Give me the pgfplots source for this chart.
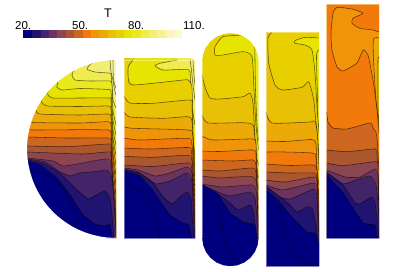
\documentclass[border=0pt]{standalone}
\usepackage{pgfplots}
\pgfplotsset{compat=1.18}
\usepackage{fontspec}
\setmainfont{Liberation Sans}
\definecolor{c0}{RGB}{0,0,127}
\definecolor{c1}{RGB}{32,20,112}
\definecolor{c2}{RGB}{68,36,104}
\definecolor{c3}{RGB}{107,52,96}
\definecolor{c4}{RGB}{140,70,80}
\definecolor{c5}{RGB}{170,87,48}
\definecolor{c6}{RGB}{205,102,30}
\definecolor{c7}{RGB}{242,122,10}
\definecolor{c8}{RGB}{240,148,10}
\definecolor{c9}{RGB}{235,170,8}
\definecolor{c10}{RGB}{232,192,5}
\definecolor{c11}{RGB}{232,208,0}
\definecolor{c12}{RGB}{230,228,0}
\definecolor{c13}{RGB}{236,232,30}
\definecolor{c14}{RGB}{240,235,78}
\definecolor{c15}{RGB}{243,238,114}
\definecolor{c16}{RGB}{246,242,148}
\definecolor{c17}{RGB}{249,246,182}
\definecolor{c18}{RGB}{251,249,208}
\definecolor{edge}{RGB}{130,130,190}
\newcommand\strokeline[1]{\addplot[draw=black,opacity=0.6,line width=0.55pt,line join=round,smooth,tension=0.35] coordinates {#1};}
\newcommand\lev[3]{%
  \edef\tmp{\noexpand\addplot[draw=none,fill=#1] coordinates {#2 #3 \cl} --cycle;}\tmp
  \strokeline{#3}}
\newcommand\base[2]{\addplot[draw=none,fill=#1] coordinates {#2} --cycle;}
\newcommand\mask[1]{\addplot[draw=none,fill=white] coordinates {#1} --cycle;}
\newcommand\swatch[3]{\addplot[draw=none,fill=#1] coordinates {(#2,30) (#3,30) (#3,37.7) (#2,37.7)} --cycle;}
\newcommand\pale[1]{\addplot[draw=white,opacity=0.4,line width=0.8pt] coordinates {#1};}
\newcommand\bottomedge[1]{\addplot[draw=edge,line width=0.8pt] coordinates {#1};}
\begin{document}
\begin{tikzpicture}
\path[use as bounding box] (0,0) rectangle (407pt,271pt);
\begin{axis}[at={(0,0)},anchor=south west,scale only axis,width=407pt,height=271pt,
  xmin=0,xmax=407,ymin=0,ymax=271,y dir=reverse,hide axis]
% colour bar
\swatch{c0}{23.3}{32}\swatch{c1}{32}{40.5}\swatch{c2}{40.5}{48.8}\swatch{c3}{48.8}{57}\swatch{c4}{57}{65.5}
\swatch{c5}{65.5}{74}\swatch{c6}{74}{82.7}\swatch{c7}{82.7}{91}\swatch{c8}{91}{99.4}\swatch{c9}{99.4}{107.7}
\swatch{c10}{107.7}{116}\swatch{c11}{116}{124}\swatch{c12}{124}{132.4}\swatch{c13}{132.4}{140.7}\swatch{c14}{140.7}{149}
\swatch{c15}{149}{157.4}\swatch{c16}{157.4}{165.7}\swatch{c17}{165.7}{174}\swatch{c18}{174}{181.7}
\node[anchor=base west,inner sep=0pt,font=\fontsize{11.5}{11.5}\selectfont] at (axis cs:15,29) {20.};
\node[anchor=base west,inner sep=0pt,font=\fontsize{11.5}{11.5}\selectfont] at (axis cs:72,29) {50.};
\node[anchor=base west,inner sep=0pt,font=\fontsize{11.5}{11.5}\selectfont] at (axis cs:128,29) {80.};
\node[anchor=base west,inner sep=0pt,font=\fontsize{11.5}{11.5}\selectfont] at (axis cs:183,29) {110.};
\node[anchor=base,inner sep=0pt,font=\fontsize{12.5}{12.5}\selectfont] at (axis cs:108,17) {T};
% ---------- panel 1
\def\cl{(116,238) (20,238)}
\base{c17}{(27,60) (116,60) (116,238) (27,238)}
\lev{c16}{(20,58) (113,58)}{(113,60) (113.5,80) (116,88)}
\lev{c15}{(20,58) (110,58)}{(110,60) (111,72) (113,80) (115,92) (116,95)}
\lev{c14}{(20,58) (103,58)}{(103,60) (92,63) (87,69) (95,72) (108,73) (111,74) (112,85) (113,100) (116,108)}
\lev{c13}{(20,70)}{(74,70) (72,75) (75,80) (90,81) (110,81) (112,85) (113,110) (116,125)}
\lev{c12}{(20,82)}{(58,82) (57,87) (62,90) (80,88.5) (108,89.5) (111,92) (113,120) (116,135)}
\lev{c11}{(20,91)}{(48,91) (48,95) (53,98) (80,98) (108,98) (111,100) (113,130) (116,145)}
\lev{c10}{(20,99)}{(41,99) (42,103) (48,106) (80,106.5) (108,106) (111,109) (113,138) (116,155)}
\lev{c9}{(20,110)}{(36,110) (40,114) (80,115) (108,114) (111,117) (113,145) (116,165)}
\lev{c8}{(20,120)}{(31,120) (33,122.5) (80,123) (108,121.7) (111,125) (112.5,150) (116,175)}
\lev{c7}{(20,129)}{(28,129) (33,130) (80,129.7) (108,130) (111,133) (112.5,155) (116,185)}
\lev{c6}{(20,137)}{(27,137) (67,138) (108,138) (111,141) (112.5,165) (116,195)}
\lev{c5}{(20,146)}{(27,146) (67,146.7) (108,144) (111,147) (112.5,175) (116,205)}
\lev{c4}{(20,152)}{(27,152) (53,153) (83,154) (107,152) (111,154) (113,185) (116,215)}
\lev{c3}{(20,158)}{(27,158) (53,161) (63,166) (83,163) (105,159) (111,162) (113,195) (116,222)}
\lev{c2}{(20,159)}{(27,159) (45,162) (60,172) (70,176) (80,173) (100,171) (107,170) (112,178) (114,202) (116,230)}
\lev{c1}{(20,160)}{(27,160) (42,163) (55,170) (65,178) (75,188) (88,199) (98,194) (105,191) (110,198) (112,215) (114,238)}
\lev{c0}{(20,161)}{(27,161) (40,165) (57,178) (70,195) (83,215) (95,224) (105,226) (110,224) (112,236) (113,238)}
\strokeline{(28,170) (43,173) (60,185) (72,205) (80,228)}
\mask{(20,58) (116,58) (116,60) (108.2,60.3) (100.5,61.4) (93,63.1) (85.6,65.4) (78.4,68.3) (71.5,71.9) (65,76.1) (58.8,80.8) (53,86) (47.8,91.8) (43,98) (38.9,104.5) (35.3,111.4) (32.4,118.6) (30.1,126) (28.4,133.5) (27.3,141.2) (27,149) (20,149)}
\mask{(20,240) (116,240) (116,238) (108.2,237.7) (100.5,236.6) (93,234.9) (85.6,232.6) (78.4,229.7) (71.5,226.1) (65,221.9) (58.8,217.2) (53,212) (47.8,206.2) (43,200) (38.9,193.5) (35.3,186.6) (32.4,179.4) (30.1,172) (28.4,164.5) (27.3,156.8) (27,149) (20,149)}
\pale{(116,60) (116,238)}
\bottomedge{(106,237.8) (116,238)}
% ---------- panel 2
\def\cl{(195,238) (124,238)}
\base{c16}{(124,60) (195,60) (195,238) (124,238)}
\lev{c15}{(124,58) (193,58)}{(193,60) (193.5,70) (195,85)}
\lev{c14}{(124,58) (190,58)}{(190,60) (191.5,70) (193,85) (195,100)}
\lev{c12}{(124,58) (177,58)}{(177,60) (160,63.3) (155,65.7) (163,70) (185,69.3) (190,71.7) (191,100) (195,125)}
\lev{c11}{(124,58) (133,58)}{(133,60) (128.3,66.7) (128.3,78) (133,85) (183,80) (188,80) (191.7,85) (192.7,108) (193,138) (195,155)}
\lev{c10}{}{(124,96) (130,103) (153,103.3) (190,100) (192,106) (193,135) (195,165)}
\lev{c9}{}{(124,112) (130,117) (163,118.3) (188,116.7) (192,121) (193.3,145) (195,175)}
\lev{c8}{}{(124,126.7) (133,128.3) (188,130) (192.7,135) (193.5,155) (195,185)}
\lev{c7}{}{(124,138) (140,140) (187,138.3) (191.7,143) (193.5,165) (195,195)}
\lev{c6}{}{(124,148) (150,149) (188,147.5) (191.5,152) (193.5,175) (195,205)}
\lev{c5}{}{(124,156.3) (153,157.3) (188,155.3) (192,161) (193.5,185) (195,215)}
\lev{c4}{}{(124,165) (153,166.5) (188,163) (192,170) (193.5,195) (195,225)}
\lev{c3}{}{(124,168) (138,170) (155,176) (170,173) (187,167) (192,173) (193.5,205) (195,232)}
\lev{c2}{}{(124,169) (138,172) (150,180) (156,184) (170,181) (187,173) (192,181) (193.5,215) (195,238)}
\lev{c1}{}{(124,170) (138,173) (153,183) (163,197) (172,204) (180,197) (187,192) (191,198) (192.5,222) (194,238)}
\lev{c0}{}{(124,171) (140,176) (153,191) (170,215) (183,223) (189,225) (191,235) (191.5,238)}
\strokeline{(124.5,183) (140,190) (153,211) (160,238)}
\pale{(124,238) (124,60) (195,60) (195,238)}
\bottomedge{(124,238) (195,238)}
% ---------- panel 3
\def\cl{(258.7,268) (202,268)}
\base{c13}{(202,32.5) (258.7,32.5) (258.7,268) (202,268)}
\lev{c12}{(202,30) (258.7,30) (258.7,43.5)}{(258,43.5) (255,46) (255,60) (255.5,90) (257,125) (258.7,140)}
\lev{c11}{(202,30) (244,30)}{(244,35) (223,36.7) (215,46.7) (215,55) (223,55) (243,51.7) (252,56.7) (254,90) (256,125) (258.7,150)}
\lev{c10}{}{(202,75) (205,87) (210,98) (220,99) (243,96.7) (250,93) (253,103) (254.5,130) (256,155) (258.7,165)}
\lev{c9}{}{(202,115) (208,123) (243,122.7) (253,125) (255,140) (256.5,165) (258.7,178)}
\lev{c8}{}{(202,136) (213,140) (253,139) (256,144) (257,170) (258.7,190)}
\lev{c7}{}{(202,151) (220,151.5) (253,150) (256,155) (257,180) (258.7,200)}
\lev{c6}{}{(202,160) (233,161) (253,160) (256,165) (257,190) (258.7,210)}
\lev{c5}{}{(202,170) (220,171) (252,168) (256,173) (257,200) (258.7,220)}
\lev{c4}{}{(202,176) (220,178) (235,177) (252,176.7) (256.5,182) (257.5,208) (258.7,228)}
\lev{c3}{}{(202,184) (223,187) (252,185) (256.5,193) (257.5,215) (258.7,235)}
\lev{c2}{}{(202,185) (220,193) (230,196) (250,192) (255,198) (257.5,225) (258.7,240)}
\lev{c1}{}{(202,185) (217,193.5) (230,203) (238,210) (250,205) (253,210) (256,232) (257.5,238)}
\lev{c0}{}{(202,185) (217,193) (230,213) (243,222) (255,225) (257,240) (258,241)}
\strokeline{(203,193) (218,205) (226,245) (241,265)}
\mask{(200,30) (231,30) (231,33) (230.4,33) (223.1,34) (216.25,36.8) (210.4,41.3) (205.9,47.15) (203.1,54) (202.1,61.3) (200,61.3)}
\mask{(261,30) (230,30) (230,33) (230.4,33) (237.7,34) (244.55,36.8) (250.4,41.3) (254.9,47.15) (257.7,54) (258.7,61.3) (261,61.3)}
\mask{(200,269) (231,269) (231,266.3) (230.4,266.3) (223.1,265.3) (216.25,262.5) (210.4,258) (205.9,252.15) (203.1,245.3) (202.1,238) (200,238)}
\mask{(261,269) (230,269) (230,266.3) (230.4,266.3) (237.7,265.3) (244.55,262.5) (250.4,258) (254.9,252.15) (257.7,245.3) (258.7,238) (261,238)}
\pale{(202.1,61.3) (202.1,238)}
\pale{(258.7,61.3) (258.7,238)}
% ---------- panel 4
\def\cl{(319,266) (266,266)}
\base{c13}{(266,32) (319,32) (319,266) (266,266)}
\lev{c12}{(266,32) (319,32)}{(319,50) (316.5,55) (317.3,90) (318,125) (319,145)}
\lev{c11}{(266,32) (319,32)}{(318.5,38) (305,37.3) (295,40.7) (295,43.3) (305,45) (312,50) (315,73) (317,107) (319,133)}
\lev{c10}{(266,32) (272,32)}{(272,32.3) (268,38) (268.7,63) (275,85) (282,90) (302,87.3) (308.7,81.7) (313.7,100) (317,133) (319,155)}
\lev{c9}{}{(266,112) (272,123) (310,122) (315,121) (317.5,135) (319,170)}
\lev{c8}{}{(266,141) (285,141.5) (312,139.5) (316,144) (317,170) (319,185)}
\lev{c7}{}{(266,152) (285,152) (312,153) (316,157) (317.3,180) (319,195)}
\lev{c6}{}{(266,164) (290,165.5) (314,165) (317,170) (318,190) (319,205)}
\lev{c5}{}{(266,172) (290,173) (314,173) (317,178) (318,200) (319,215)}
\lev{c4}{}{(266,180) (285,182) (314,177) (317.5,185) (318,208) (319,225)}
\lev{c3}{}{(266,185) (283,190) (314,183) (317.5,192) (318,215) (319,232)}
\lev{c2}{}{(266,186) (280,197) (290,199) (314,189) (317,198) (318,222) (319,240)}
\lev{c1}{}{(266,187) (280,197) (290,205) (297,212) (307,207) (312,208) (316,225) (317.5,240) (318.5,250)}
\lev{c0}{}{(266,190) (278,200) (290,215) (307,232) (315,233) (318,240) (319,245)}
\strokeline{(267,202) (280,208) (285,238) (297,257) (313,265)}
\pale{(266,266) (266,32) (319,32) (319,266)}
\bottomedge{(266,266) (319,266)}
% ---------- panel 5
\def\cl{(379,238) (326.7,238)}
\base{c10}{(326.7,4.3) (379,4.3) (379,238) (326.7,238)}
\lev{c9}{(326.7,4.3) (379,4.3)}{(379,58) (378,60) (378,110) (379,120)}
\lev{c8}{(326.7,4.3) (379,4.3)}{(379,38) (373.5,39) (373.5,60) (376,100) (379,125)}
\lev{c7}{(326.7,4.3) (379,4.3)}{(379,32) (373,30) (360,28.3) (352,23.3) (353,18.3) (363,13.3) (353,9.3) (337,7.3) (333,13.3) (331,33) (332,50) (337,67) (343,71) (357,63) (363,50) (368,55) (373,80) (377,110) (379,133)}
\lev{c6}{}{(326.7,112) (328,122) (333,128) (347,129) (370,123) (373,128) (376.7,135) (379,170)}
\lev{c5}{}{(326.7,150) (347,151.7) (375,149) (377,155) (378,180) (379,200)}
\lev{c4}{}{(326.7,163) (343,165.7) (375,161.7) (378,165) (378.3,190) (379,210)}
\lev{c3}{}{(326.7,170) (345,177) (360,177) (375,169) (378,175) (378.5,200) (379,218)}
\lev{c2}{}{(326.7,172) (343,184) (356,180) (370,176) (376,185) (378,205) (379,228)}
\lev{c1}{}{(326.7,173) (343,185) (355,203) (360,204) (372,197) (375,202) (378,228) (379,238)}
\lev{c0}{}{(326.7,175) (343,193) (363,223) (375,225) (377,237) (378,238)}
\pale{(326.7,238) (326.7,4.3) (379,4.3) (379,238)}
\bottomedge{(326.7,238) (379,238)}
\end{axis}
\end{tikzpicture}
\end{document}
